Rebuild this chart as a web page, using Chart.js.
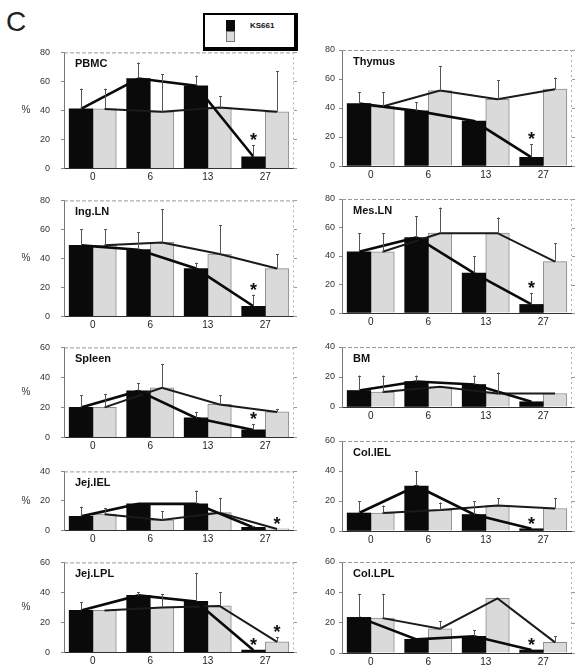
<!DOCTYPE html>
<html>
<head>
<meta charset="utf-8">
<script src="https://cdn.jsdelivr.net/npm/chart.js@4.4.1/dist/chart.umd.min.js"></script>
<style>
  html, body { margin: 0; padding: 0; background: #fff; }
  #wrap { position: relative; width: 576px; height: 665px; overflow: hidden; background: #fff; font-family: "Liberation Sans", Arial, sans-serif; }
  canvas { position: absolute; }
  #letter { position: absolute; left: 6px; top: 6px; font-size: 28px; color: #222; }
  #legend { position: absolute; left: 203px; top: 13px; width: 89px; height: 32px; border: 2px solid #000; border-right-width: 4px; border-bottom-width: 4px; background: #fff; }
  .sw { position: absolute; left: 21px; width: 9px; height: 11px; }
  #legend .t { position: absolute; left: 45px; top: 6px; font-size: 8px; font-weight: bold; color: #111; }
</style>
</head>
<body>
<div id="wrap">
  <div id="letter">C</div>
  <div id="legend">
    <div class="sw" style="top:5px;background:#0a0a0a;"></div>
    <div class="sw" style="top:16px;background:#dcdcdc;border:1px solid #777;width:7px;height:9px;"></div>
    <div class="t">KS661</div>
  </div>
</div>
<script>
// ---------- data ----------
const timepoints = ['0', '6', '13', '27'];

const pbmcBlack = [41, 62, 57, 8];
const pbmcBlackErr = [14, 11, 7, 8];
const pbmcGray = [41, 39, 42, 39];
const pbmcGrayErr = [14, 26, 8, 28];

const thymusBlack = [43, 38, 31, 6];
const thymusBlackErr = [8, 6, 0, 9];
const thymusGray = [41, 52, 46, 53];
const thymusGrayErr = [10, 17, 13, 8];

const ingLnBlack = [49, 46, 33, 7];
const ingLnBlackErr = [11, 12, 4, 8];
const ingLnGray = [49, 51, 43, 33];
const ingLnGrayErr = [11, 23, 20, 10];

const mesLnBlack = [43, 53, 28, 6];
const mesLnBlackErr = [13, 15, 12, 8];
const mesLnGray = [43, 56, 56, 36];
const mesLnGrayErr = [13, 18, 11, 13];

const spleenBlack = [20, 31, 13, 5];
const spleenBlackErr = [8, 5, 4, 4];
const spleenGray = [20, 33, 22, 17];
const spleenGrayErr = [9, 16, 6, 2];

const bmBlack = [11, 17, 15, 3.5];
const bmBlackErr = [10, 4, 6, 0];
const bmGray = [10, 13.5, 9, 9];
const bmGrayErr = [11, 0, 14, 0];

const jejIelBlack = [9.5, 18, 18, 2];
const jejIelBlackErr = [6.5, 0, 9, 1];
const jejIelGray = [11, 7, 12, 1];
const jejIelGrayErr = [4, 6, 10, 0];

const colIelBlack = [12, 30, 11, 1.5];
const colIelBlackErr = [8, 10, 9, 0];
const colIelGray = [12, 14, 17, 15];
const colIelGrayErr = [5, 5, 5, 7];

const jejLplBlack = [28, 38, 34, 1.5];
const jejLplBlackErr = [5.5, 2, 19, 0];
const jejLplGray = [28, 30, 31, 7];
const jejLplGrayErr = [0, 9, 9, 3];

const colLplBlack = [23.5, 9, 11, 2];
const colLplBlackErr = [15.5, 0, 4, 0];
const colLplGray = [23, 16, 36, 7];
const colLplGrayErr = [16, 5, 0, 4];

// panels with a significance asterisk on day 27
const asteriskBlack27 = ['PBMC', 'Thymus', 'Ing.LN', 'Mes.LN', 'Spleen', 'Col.IEL', 'Jej.LPL', 'Col.LPL'];
const asteriskGray27 = ['Jej.IEL', 'Jej.LPL'];

const yTickStep = 20;

// ---------- layout (plot-area boxes: left, top, right, bottom) ----------
const panels = [
  { name: 'PBMC',    max: 80, black: pbmcBlack,   blackErr: pbmcBlackErr,   gray: pbmcGray,   grayErr: pbmcGrayErr,   box: [64, 52, 294, 168],  col: 0 },
  { name: 'Thymus',  max: 80, black: thymusBlack, blackErr: thymusBlackErr, gray: thymusGray, grayErr: thymusGrayErr, box: [342, 50, 572, 166], col: 1 },
  { name: 'Ing.LN',  max: 80, black: ingLnBlack,  blackErr: ingLnBlackErr,  gray: ingLnGray,  grayErr: ingLnGrayErr,  box: [64, 200, 294, 316], col: 0 },
  { name: 'Mes.LN',  max: 80, black: mesLnBlack,  blackErr: mesLnBlackErr,  gray: mesLnGray,  grayErr: mesLnGrayErr,  box: [342, 199, 572, 313], col: 1 },
  { name: 'Spleen',  max: 60, black: spleenBlack, blackErr: spleenBlackErr, gray: spleenGray, grayErr: spleenGrayErr, box: [64, 347, 294, 437], col: 0 },
  { name: 'BM',      max: 40, black: bmBlack,     blackErr: bmBlackErr,     gray: bmGray,     grayErr: bmGrayErr,     box: [342, 347, 572, 407], col: 1 },
  { name: 'Jej.IEL', max: 40, black: jejIelBlack, blackErr: jejIelBlackErr, gray: jejIelGray, grayErr: jejIelGrayErr, box: [64, 471, 294, 530], col: 0 },
  { name: 'Col.IEL', max: 60, black: colIelBlack, blackErr: colIelBlackErr, gray: colIelGray, grayErr: colIelGrayErr, box: [342, 441, 572, 531], col: 1 },
  { name: 'Jej.LPL', max: 60, black: jejLplBlack, blackErr: jejLplBlackErr, gray: jejLplGray, grayErr: jejLplGrayErr, box: [64, 562, 294, 652], col: 0 },
  { name: 'Col.LPL', max: 60, black: colLplBlack, blackErr: colLplBlackErr, gray: colLplGray, grayErr: colLplGrayErr, box: [342, 562, 572, 653], col: 1 }
];

Chart.defaults.font.family = '"Liberation Sans", Arial, sans-serif';
Chart.defaults.animation = false;

const FONT = '"Liberation Sans", Arial, sans-serif';
const GROUP_WIDTH = 0.82;           // fraction of a time slot taken by the bar pair
const HALF = GROUP_WIDTH / 4;       // offset of each bar centre from the slot centre

const panelDeco = {
  id: 'panelDeco',
  beforeDatasetsDraw(chart, args, opts) {
    const ctx = chart.ctx, a = chart.chartArea, ys = chart.scales.y;
    ctx.save();
    ctx.strokeStyle = '#9a9a9a';
    ctx.lineWidth = 1;
    ctx.setLineDash([4, 2]);
    ctx.beginPath();
    ctx.moveTo(a.left, a.top + 0.5);
    ctx.lineTo(a.right, a.top + 0.5);
    ctx.stroke();
    ctx.setLineDash([2, 3]);
    ctx.strokeStyle = '#b0b0b0';
    ctx.beginPath();
    ctx.moveTo(a.right - 0.5, a.top);
    ctx.lineTo(a.right - 0.5, a.bottom);
    ctx.stroke();
    ctx.setLineDash([]);
    ctx.strokeStyle = '#999';
    ys.ticks.forEach(t => {
      const py = Math.round(ys.getPixelForValue(t.value)) + 0.5;
      ctx.beginPath();
      ctx.moveTo(a.right, py);
      ctx.lineTo(a.right + 3, py);
      ctx.stroke();
    });
    ctx.restore();
  },
  afterDatasetsDraw(chart, args, opts) {
    const ctx = chart.ctx, a = chart.chartArea, ys = chart.scales.y;
    ctx.save();
    [0, 1].forEach(di => {
      const ds = chart.data.datasets[di];
      const meta = chart.getDatasetMeta(di);
      meta.data.forEach((bar, i) => {
        const v = ds.data[i].y, e = ds.errors[i];
        const topPx = ys.getPixelForValue(v + e);
        if (e > 0) {
          ctx.strokeStyle = '#555';
          ctx.lineWidth = 1;
          const x = Math.round(bar.x) + 0.5;
          ctx.beginPath();
          ctx.moveTo(x, bar.y);
          ctx.lineTo(x, topPx);
          ctx.moveTo(x - 1.5, Math.round(topPx) + 0.5);
          ctx.lineTo(x + 1.5, Math.round(topPx) + 0.5);
          ctx.stroke();
        }
        if (ds.stars[i]) {
          ctx.fillStyle = '#111';
          ctx.font = 'bold 18px ' + FONT;
          ctx.textAlign = 'center';
          ctx.textBaseline = 'middle';
          ctx.fillText('*', bar.x, Math.min(topPx, bar.y) - 4);
        }
      });
    });
    ctx.fillStyle = '#111';
    ctx.font = 'bold 11px ' + FONT;
    ctx.textAlign = 'left';
    ctx.textBaseline = 'middle';
    ctx.fillText(opts.title, a.left + 11, a.top + 12);
    if (opts.showPercent) {
      ctx.font = '10px ' + FONT;
      ctx.fillStyle = '#333';
      ctx.textAlign = 'center';
      ctx.fillText('%', a.left - 38, (a.top + a.bottom) / 2);
    }
    ctx.restore();
  }
};

const wrap = document.getElementById('wrap');

panels.forEach(p => {
  const [L, T, R, B] = p.box;
  const cLeft = p.col === 0 ? 0 : 296;
  const PAD_TOP = 10;
  let cTop = T - PAD_TOP;
  const cW = R + 4 - cLeft;
  let cH = B + 18 - cTop;
  const canvas = document.createElement('canvas');
  canvas.width = cW;
  canvas.height = cH;
  canvas.style.left = cLeft + 'px';
  canvas.style.top = cTop + 'px';
  canvas.style.width = cW + 'px';
  canvas.style.height = cH + 'px';
  wrap.appendChild(canvas);

  const blackPts = p.black.map((v, i) => ({ x: i - HALF, y: v }));
  const grayPts = p.gray.map((v, i) => ({ x: i + HALF, y: v }));

  const chart = new Chart(canvas, {
    type: 'bar',
    data: {
      datasets: [
        { label: 'KS661', data: blackPts, errors: p.blackErr,
          stars: p.black.map((v, i) => i === 3 && asteriskBlack27.includes(p.name)),
          backgroundColor: '#0a0a0a', borderWidth: 0, grouped: false,
          categoryPercentage: 1.0, barPercentage: 1.0, order: 2 },
        { label: 'control', data: grayPts, errors: p.grayErr,
          stars: p.gray.map((v, i) => i === 3 && asteriskGray27.includes(p.name)),
          backgroundColor: '#dadada', borderColor: '#8c8c8c', borderWidth: 1, grouped: false,
          categoryPercentage: 1.0, barPercentage: 1.0, order: 2 },
        { type: 'line', data: grayPts, borderColor: '#1a1a1a', borderWidth: 2, grouped: false,
          pointRadius: 0, tension: 0, fill: false, order: 1 },
        { type: 'line', data: blackPts, borderColor: '#0a0a0a', borderWidth: 2.6, grouped: false,
          pointRadius: 0, tension: 0, fill: false, order: 0 }
      ]
    },
    options: {
      responsive: false,
      maintainAspectRatio: false,
      devicePixelRatio: 1,
      animation: false,
      layout: { padding: { top: PAD_TOP, right: 4, left: 0, bottom: 0 } },
      plugins: {
        legend: { display: false },
        tooltip: { enabled: false },
        panelDeco: { title: p.name, showPercent: p.col === 0 }
      },
      scales: {
        x: {
          type: 'linear',
          offset: false,
          min: -0.5, max: timepoints.length - 0.5,
          grid: { display: false, drawTicks: false, offset: false },
          border: { display: true, color: '#333', width: 1 },
          afterBuildTicks: s => { s.ticks = timepoints.map((t, i) => ({ value: i })); },
          ticks: { color: '#222', font: { size: 10 }, padding: 3, maxRotation: 0,
                   callback: v => timepoints[v] },
          afterFit: s => { s.height = 18; }
        },
        y: {
          min: 0, max: p.max,
          ticks: { stepSize: yTickStep, color: '#333', font: { size: 9 }, padding: p.col === 0 ? 11 : 4 },
          grid: { display: true, drawOnChartArea: false, drawTicks: true, tickLength: 3, color: '#888' },
          border: { display: true, color: '#777', width: 1 },
          afterFit: s => { s.width = L - cLeft; }
        }
      }
    },
    plugins: [panelDeco]
  });

  // align plot area exactly with the intended box
  const extraTop = chart.chartArea.top - PAD_TOP;
  if (Math.abs(extraTop) > 0.5) {
    cH = cH + extraTop;
    chart.resize(cW, cH);
    canvas.style.top = (T - chart.chartArea.top) + 'px';
  }
});
</script>
</body>
</html>
